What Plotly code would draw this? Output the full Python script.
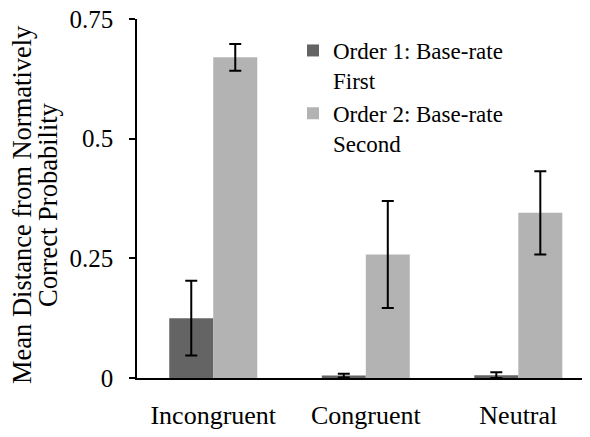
import plotly.graph_objects as go

categories = ["Incongruent", "Congruent", "Neutral"]
order1_name = "Order 1: Base-rate<br>First"
order2_name = "Order 2: Base-rate<br>Second"
order1_vals = [0.125, 0.005, 0.006]
order1_err = [0.078, 0.004, 0.006]
order2_vals = [0.670, 0.258, 0.345]
order2_err = [0.028, 0.112, 0.087]
ytick_vals = [0, 0.25, 0.5, 0.75]
ytick_text = ["0", "0.25", "0.5", "0.75"]
ytitle_lines = ["Mean Distance from Normatively", "Correct Probability"]

FONT = "Liberation Serif"
xpos = list(range(len(categories)))

# page body has an 8px default margin; figure is sized to fit the window
OFF = 8
W, H = 590 - OFF, 437 - OFF
L, R, T = 137 - OFF, 0, 19 - OFF
B = H - (378 - OFF)
PW = W - L - R
PH = H - T - B


def px_x(page_x):
    return (page_x - OFF - L) / PW


def px_y(page_y):
    return (H - B - (page_y - OFF)) / PH


fig = go.Figure()
fig.add_trace(go.Bar(
    x=xpos, y=order1_vals, name=order1_name,
    marker=dict(color="#646464", line=dict(width=0)),
    error_y=dict(type="data", array=order1_err, color="black", thickness=2, width=6),
))
fig.add_trace(go.Bar(
    x=xpos, y=order2_vals, name=order2_name,
    marker=dict(color="#b3b3b3", line=dict(width=0)),
    error_y=dict(type="data", array=order2_err, color="black", thickness=2, width=6),
))

annos = []
for line, px in zip(ytitle_lines, [22, 48]):
    annos.append(dict(
        text=line, xref="paper", yref="paper",
        x=px_x(px), y=px_y(205),
        xanchor="center", yanchor="middle", textangle=-90, showarrow=False,
        font=dict(family=FONT, size=26.5, color="black"),
    ))

fig.update_layout(
    width=W, height=H,
    margin=dict(l=L, r=R, t=T, b=B, autoexpand=False),
    paper_bgcolor="white", plot_bgcolor="white",
    barmode="group", bargap=0.423, bargroupgap=0,
    font=dict(family=FONT, color="black", size=24),
    showlegend=True,
    legend=dict(
        x=px_x(293), y=px_y(29), xanchor="left", yanchor="top",
        font=dict(family=FONT, size=23, color="black"),
        bgcolor="rgba(0,0,0,0)", valign="top",
        tracegroupgap=0,
    ),
    xaxis=dict(
        range=[-0.5, 2.47], tickmode="array", tickvals=xpos, ticktext=categories,
        showline=True, linecolor="black", linewidth=1.5, ticks="",
        showgrid=False, zeroline=False, automargin=False,
        tickfont=dict(family=FONT, size=26, color="black"),
        ticklabelstandoff=13, ticklabeloverflow="allow",
    ),
    yaxis=dict(
        range=[0, 0.75], tickmode="array", tickvals=ytick_vals, ticktext=ytick_text,
        showline=True, linecolor="black", linewidth=1.5,
        ticks="outside", ticklen=6, tickwidth=1.5, tickcolor="black",
        showgrid=False, zeroline=False, automargin=False,
        tickfont=dict(family=FONT, size=25, color="black"),
        ticklabelstandoff=11, ticklabeloverflow="allow",
    ),
    annotations=annos,
)

fig.write_html("out.html")
